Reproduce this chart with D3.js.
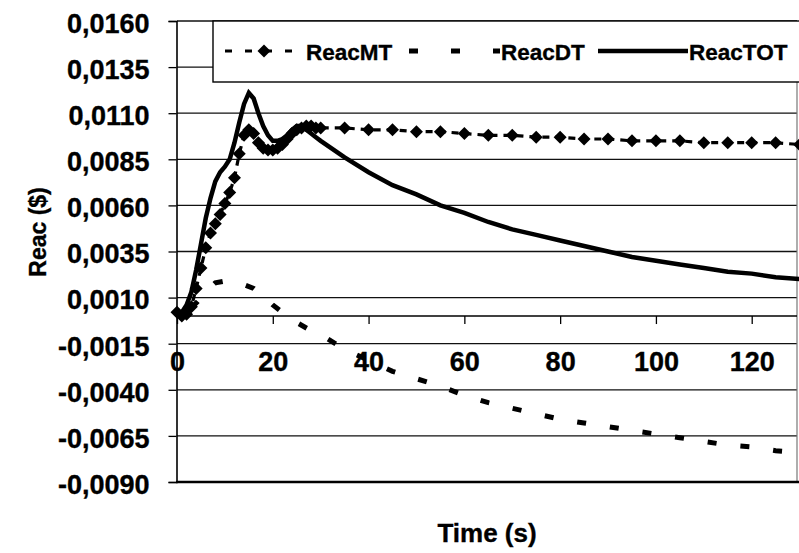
<!DOCTYPE html>
<html>
<head>
<meta charset="utf-8">
<script src="https://cdn.jsdelivr.net/npm/d3@7"></script>
<style>
  html, body { margin: 0; padding: 0; background: #fff; }
  svg { display: block; }
  text { font-family: "Liberation Sans", Arial, sans-serif; font-weight: bold; fill: #000; stroke: #000; stroke-width: 0.35px; }
</style>
</head>
<body>
<svg id="chart" width="799" height="553"></svg>
<script>
// ---------------- data ----------------
const seriesNames = ["ReacMT", "ReacDT", "ReacTOT"];

const mtTime = [0,1,2,3,4,5,6,7,8,9,10,11,12,13,14,15,16,17,18,19,20,21,22,23,24,25,26,27,28,29,30,
  35,40,45,50,55,60,65,70,75,80,85,90,95,100,105,110,115,120,125,130];
const mtValues = [0.0002,0.0000,0.0001,0.0005,0.0015,0.0026,0.0037,0.0045,0.0050,0.0055,0.0061,0.0067,0.0075,0.0088,0.0098,0.0101,
  0.0099,0.0094,0.0091,0.0090,0.0090,0.0091,0.0093,0.0096,0.0099,0.0101,0.0102,0.0103,0.0103,0.0102,0.0102,
  0.0102,0.0101,0.0101,0.0100,0.0100,0.0099,0.0098,0.0098,0.0097,0.0097,0.0096,0.0096,0.0095,0.0095,0.0095,0.0094,0.0094,0.0094,0.0094,0.0093];

const dtTime = [0,2,4,6,8,10,12,14,16,18,20,22,24,26,28,30,35,40,45,50,55,60,65,70,75,80,85,90,95,100,105,110,115,120,125,130];
const dtValues = [0.0000,0.0002,0.0007,0.0013,0.0018,0.0019,0.0019,0.0017,0.0015,0.0011,0.0006,0.0002,-0.0002,-0.0005,-0.0008,-0.0010,
  -0.0018,-0.0024,-0.0030,-0.0034,-0.0038,-0.0043,-0.0047,-0.0050,-0.0053,-0.0056,-0.0058,-0.0060,-0.0062,-0.0064,-0.0066,-0.0068,-0.0070,-0.0071,-0.0073,-0.0074];

const totTime = [0,1,2,3,4,5,6,7,8,9,10,11,12,13,14,15,16,17,18,19,20,21,22,23,24,25,26,27,28,29,30,
  35,40,45,50,55,60,65,70,75,80,85,90,95,100,105,110,115,120,125,130];
const totValues = [0.0000,0.0002,0.0006,0.0013,0.0025,0.0039,0.0053,0.0064,0.0073,0.0078,0.0081,0.0085,0.0094,0.0105,0.0115,0.0121,
  0.0118,0.0110,0.0103,0.0098,0.0095,0.0095,0.0096,0.0098,0.0101,0.0103,0.0103,0.0101,0.0099,0.0097,0.0095,
  0.0086,0.0078,0.0071,0.0066,0.0060,0.0056,0.0051,0.0047,0.0044,0.0041,0.0038,0.0035,0.0032,0.0030,0.0028,0.0026,0.0024,0.0023,0.0021,0.0020];

const yTickValues = [0.0160,0.0135,0.0110,0.0085,0.0060,0.0035,0.0010,-0.0015,-0.0040,-0.0065,-0.0090];
const yTickLabels = ["0,0160","0,0135","0,0110","0,0085","0,0060","0,0035","0,0010","-0,0015","-0,0040","-0,0065","-0,0090"];
const xTickValues = [0,20,40,60,80,100,120];
const xTickLabels = ["0","20","40","60","80","100","120"];
const xTitle = "Time (s)";
const yTitle = "Reac ($)";

// ---------------- layout ----------------
const svg = d3.select("#chart");
const plotLeft = 177, plotRight = 797, plotTop = 21, plotBottom = 482;

const x = d3.scaleLinear().domain([0, 130]).range([177, 799.6]);
const y = d3.scaleLinear().domain([-0.009, 0.016]).range([plotBottom, plotTop]);

svg.append("rect").attr("width", 799).attr("height", 553).attr("fill", "#fff");

// gridlines
svg.append("g").selectAll("line").data(yTickValues).join("line")
  .attr("x1", plotLeft).attr("x2", plotRight)
  .attr("y1", d => y(d)).attr("y2", d => y(d))
  .attr("stroke", "#111").attr("stroke-width", 1.3);

// right border
svg.append("line").attr("x1", plotRight).attr("x2", plotRight)
  .attr("y1", plotTop).attr("y2", plotBottom)
  .attr("stroke", "#777").attr("stroke-width", 1.2);
// bottom border
svg.append("line").attr("x1", plotLeft - 1).attr("x2", plotRight + 2)
  .attr("y1", plotBottom).attr("y2", plotBottom)
  .attr("stroke", "#000").attr("stroke-width", 2.6);

// y axis
const yAxis = d3.axisLeft(y).tickValues(yTickValues).tickSize(8).tickPadding(19)
  .tickFormat((d, i) => yTickLabels[i]);
const gy = svg.append("g").attr("transform", `translate(${plotLeft - 0.5},0)`).call(yAxis);
gy.select(".domain").attr("stroke", "#000").attr("stroke-width", 1.6);
gy.selectAll(".tick line").attr("stroke", "#000").attr("stroke-width", 1.3);
gy.selectAll(".tick text").attr("font-size", 27).attr("font-family", "Liberation Sans, Arial, sans-serif")
  .attr("font-weight", "bold").attr("dy", "0.42em").attr("fill", "#000");

// x axis at zero
const xAxis = d3.axisBottom(x).tickValues(xTickValues).tickSize(8).tickSizeOuter(0).tickPadding(28)
  .tickFormat((d, i) => xTickLabels[i]);
const gx = svg.append("g").attr("transform", `translate(0,${y(0)})`).call(xAxis);
gx.select(".domain").attr("d", `M${plotLeft},0H${plotRight}`).attr("stroke", "#000").attr("stroke-width", 1.5);
gx.selectAll(".tick line").attr("stroke", "#000").attr("stroke-width", 1.3);
gx.selectAll(".tick text").attr("font-size", 27).attr("font-family", "Liberation Sans, Arial, sans-serif")
  .attr("font-weight", "bold").attr("fill", "#000");

// axis titles
svg.append("text").attr("transform", "translate(46,232) rotate(-90)")
  .attr("text-anchor", "middle").attr("font-size", 23).text(yTitle);
svg.append("text").attr("x", 487).attr("y", 542)
  .attr("text-anchor", "middle").attr("font-size", 26).text(xTitle);

// ---------------- series ----------------
const line = d3.line().x(d => x(d[0])).y(d => y(d[1]));
const mtData = mtTime.map((t, i) => [t, mtValues[i]]);
const dtData = dtTime.map((t, i) => [t, dtValues[i]]);
const totData = totTime.map((t, i) => [t, totValues[i]]);

const diamond = "M0,-6.5L6.5,0L0,6.5L-6.5,0Z";

// MT: dashed line + diamonds
svg.append("path").datum(mtData).attr("d", line)
  .attr("fill", "none").attr("stroke", "#000").attr("stroke-width", 3.2)
  .attr("stroke-dasharray", "7,6");
svg.append("g").selectAll("path").data(mtData).join("path")
  .attr("d", diamond)
  .attr("transform", d => `translate(${x(d[0])},${y(d[1])})`)
  .attr("fill", "#000");

// DT: heavy dashes
svg.append("path").datum(dtData).attr("d", line)
  .attr("fill", "none").attr("stroke", "#000").attr("stroke-width", 5)
  .attr("stroke-dasharray", "9,24").attr("stroke-dashoffset", 16);

// TOT: solid
svg.append("path").datum(totData).attr("d", line)
  .attr("fill", "none").attr("stroke", "#000").attr("stroke-width", 4.5)
  .attr("stroke-linejoin", "miter");

// ---------------- legend ----------------
const lg = svg.append("g");
lg.append("rect").attr("x", 213).attr("y", 21).attr("width", 600).attr("height", 61)
  .attr("fill", "#fff").attr("stroke", "#000").attr("stroke-width", 1.4);
const ly = 51;
// MT sample
lg.append("line").attr("x1", 225).attr("x2", 302).attr("y1", ly).attr("y2", ly)
  .attr("stroke", "#000").attr("stroke-width", 3.2).attr("stroke-dasharray", "7,13");
lg.append("path").attr("d", diamond).attr("transform", `translate(264,${ly})`).attr("fill", "#000");
// DT sample
lg.append("line").attr("x1", 409).attr("x2", 500).attr("y1", ly).attr("y2", ly)
  .attr("stroke", "#000").attr("stroke-width", 5).attr("stroke-dasharray", "9,33");
// TOT sample
lg.append("line").attr("x1", 598).attr("x2", 688).attr("y1", ly).attr("y2", ly)
  .attr("stroke", "#000").attr("stroke-width", 4.5);
const legendX = [306, 501, 689];
lg.selectAll("text.lt").data(seriesNames).join("text").attr("class", "lt")
  .attr("x", (d, i) => legendX[i]).attr("y", 59.5)
  .attr("font-size", 22.5).text(d => d);
</script>
</body>
</html>
